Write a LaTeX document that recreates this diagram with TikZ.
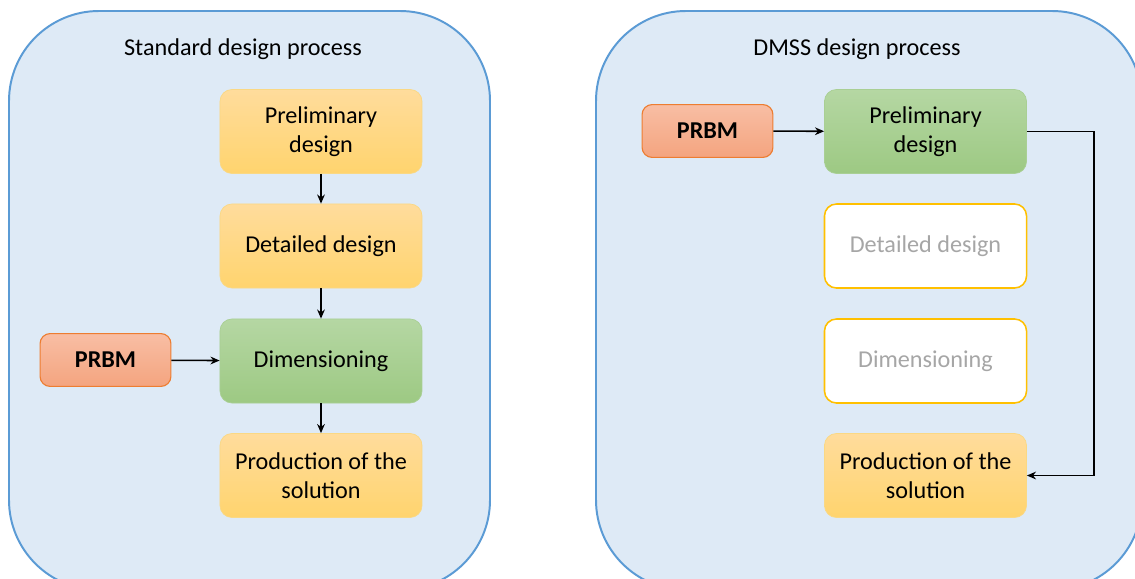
\documentclass[tikz,border=0pt]{standalone}
\usepackage{fontspec}
\setmainfont{Carlito}
\usetikzlibrary{positioning,arrows.meta}

\definecolor{panelfill}{HTML}{DEEAF6}
\definecolor{panelline}{HTML}{5B9BD5}
\definecolor{yeltop}{HTML}{FFDC9C}
\definecolor{yelbot}{HTML}{FFD46E}
\definecolor{yelline}{HTML}{FAD884}
\definecolor{grntop}{HTML}{B5D7A3}
\definecolor{grnbot}{HTML}{9DC983}
\definecolor{grnline}{HTML}{A9CF94}
\definecolor{orgtop}{HTML}{F8BEA4}
\definecolor{orgbot}{HTML}{F4A47F}
\definecolor{orgline}{HTML}{ED7D31}
\definecolor{ghostline}{HTML}{FFC000}
\definecolor{ghosttext}{HTML}{A6A6A6}

\tikzset{
  panel/.style={draw=panelline,fill=panelfill,line width=1.4pt,rounded corners=2.25cm},
  stepbox/.style={rounded corners=0.3cm,minimum width=5.05cm,minimum height=2.1cm,align=center,
    font=\fontsize{17.2}{21}\selectfont},
  yelbox/.style={stepbox,draw=yelline,top color=yeltop,bottom color=yelbot,line width=0.5pt},
  grnbox/.style={stepbox,draw=grnline,top color=grntop,bottom color=grnbot,line width=0.5pt},
  ghostbox/.style={stepbox,draw=ghostline,fill=white,line width=1.1pt,text=ghosttext},
  prbmbox/.style={rounded corners=0.25cm,minimum width=3.27cm,minimum height=1.32cm,
    draw=orgline,top color=orgtop,bottom color=orgbot,line width=0.8pt,
    font=\fontsize{17.2}{21}\selectfont\bfseries},
  title/.style={font=\fontsize{17.2}{21}\selectfont},
  flow/.style={->,>={Stealth[length=6.5pt,width=5.5pt]},line width=1.1pt}
}

\begin{document}
\begin{tikzpicture}[x=0.025cm,y=-0.025cm]
        \clip (0,0) rectangle (1135,578);
        \fill[white] (0,0) rectangle (1135,578);

        % standard design process
        \draw[panel] (9,11) rectangle (490,590);
        \node[title] (ltitle) at (243,49) {Standard design process};
        \node[yelbox] (lpre) at (321,131.5) {Preliminary\\design};
        \node[yelbox] (ldet) at (321,246) {Detailed design};
        \node[grnbox] (ldim) at (321,361) {Dimensioning};
        \node[yelbox] (lprod) at (321,475.5) {Production of the\\solution};
        \node[prbmbox] (lprbm) at (105.5,360) {PRBM};
        \draw[flow] (lpre) -- (ldet);
        \draw[flow] (ldet) -- (ldim);
        \draw[flow] (ldim) -- (lprod);
        \draw[flow] (lprbm) -- (ldim);

        % DMSS design process
        \draw[panel] (596,11) rectangle (1142,590);
        \node[title] (rtitle) at (857,49) {DMSS design process};
        \node[grnbox] (rpre) at (925.5,131.5) {Preliminary\\design};
        \node[ghostbox] (rdet) at (925.5,246) {Detailed design};
        \node[ghostbox] (rdim) at (925.5,361) {Dimensioning};
        \node[yelbox] (rprod) at (925.5,475.5) {Production of the\\solution};
        \node[prbmbox] (rprbm) at (707.5,131) {PRBM};
        \coordinate (rturn) at (1094,131.5);
        \draw[flow] (rprbm) -- (rpre);
        \draw[flow] (rpre.east) -- (rturn) |- (rprod.east);
\end{tikzpicture}
\end{document}
